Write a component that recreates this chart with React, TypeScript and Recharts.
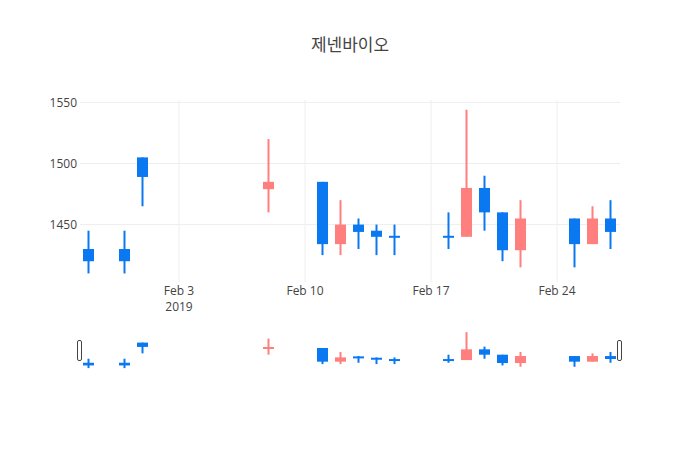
import React from "react";
import { Bar, CartesianGrid, ComposedChart, XAxis, YAxis } from "recharts";

// daily candles, Korean colour convention: red = up, blue = down
const DATES = [
  "2019-01-29", "2019-01-31", "2019-02-01", "2019-02-08", "2019-02-11",
  "2019-02-12", "2019-02-13", "2019-02-14", "2019-02-15", "2019-02-18",
  "2019-02-19", "2019-02-20", "2019-02-21", "2019-02-22", "2019-02-25",
  "2019-02-26", "2019-02-27",
];
const OPEN = [1430, 1430, 1505, 1479, 1485, 1434, 1450, 1445, 1440, 1440, 1440, 1480, 1460, 1429, 1455, 1434, 1455];
const HIGH = [1445, 1445, 1505, 1520, 1485, 1470, 1455, 1450, 1450, 1460, 1544, 1490, 1460, 1470, 1455, 1465, 1470];
const LOW = [1410, 1410, 1465, 1460, 1425, 1425, 1430, 1425, 1425, 1430, 1440, 1445, 1420, 1415, 1415, 1434, 1430];
const CLOSE = [1420, 1420, 1489, 1485, 1434, 1450, 1444, 1440, 1440, 1440, 1480, 1460, 1429, 1455, 1434, 1455, 1444];

const X_TICKS = ["2019-02-03", "2019-02-10", "2019-02-17", "2019-02-24"];
const Y_TICKS = [1450, 1500, 1550];
const Y_DOMAIN = [1403, 1552];

const UP = "#ff7f7f";
const DOWN = "#0a78f0";
const FONT = "'Open Sans', 'Noto Sans CJK KR', sans-serif";
const DAY = 86400000;
const MONTHS = ["Jan", "Feb", "Mar", "Apr", "May", "Jun", "Jul", "Aug", "Sep", "Oct", "Nov", "Dec"];

const toTs = (s: string) => {
  const [y, m, d] = s.split("-").map(Number);
  return Date.UTC(y, m - 1, d);
};

const data = DATES.map((d, i) => ({
  t: toTs(d),
  open: OPEN[i],
  high: HIGH[i],
  low: LOW[i],
  close: CLOSE[i],
  range: [LOW[i], HIGH[i]],
}));

const xTicks = X_TICKS.map(toTs);
const xDomain = [data[0].t - DAY / 2, data[data.length - 1].t + DAY / 2];

function Candle(props: any) {
  const { x, y, width, height, payload } = props;
  if (payload == null || height == null) return null;
  const { open, close, high, low } = payload;
  const k = height / (high - low || 1);
  const up = close > open;
  const color = up ? UP : DOWN;
  const cx = x + width / 2;
  const top = y + (high - Math.max(open, close)) * k;
  const bot = y + (high - Math.min(open, close)) * k;
  const bh = Math.max(bot - top, 2);
  return (
    <g>
      <line x1={cx} x2={cx} y1={y} y2={y + height} stroke={color} strokeWidth={2} />
      <rect x={x} y={bot - top < 2 ? top - 1 : top} width={width} height={bh} fill={color} />
    </g>
  );
}

// plotly-style date tick: year shown under the first label only
function DateTick(props: any) {
  const { x, y, payload, index } = props;
  const d = new Date(payload.value);
  const label = `${MONTHS[d.getUTCMonth()]} ${d.getUTCDate()}`;
  return (
    <g>
      <text x={x} y={y + 13} textAnchor="middle" fill="#444" fontSize={12} fontFamily={FONT}>
        {label}
      </text>
      {index === 0 ? (
        <text x={x} y={y + 29} textAnchor="middle" fill="#444" fontSize={12} fontFamily={FONT}>
          {d.getUTCFullYear()}
        </text>
      ) : null}
    </g>
  );
}

export default function App() {
  return (
    <div style={{ position: "absolute", left: 0, top: 0, width: 700, height: 450, background: "#fff", fontFamily: FONT }}>
      <div
        style={{
          position: "absolute",
          top: 31,
          width: 700,
          textAlign: "center",
          fontSize: 17,
          color: "#444",
        }}
      >
        제넨바이오
      </div>

      <div style={{ position: "absolute", left: 0, top: 0 }}>
        <ComposedChart
          width={700}
          height={320}
          data={data}
          margin={{ top: 100, right: 80, left: 0, bottom: 0 }}
        >
          <CartesianGrid stroke="#eee" strokeWidth={1} horizontalValues={Y_TICKS} verticalValues={xTicks} />
          <XAxis
            dataKey="t"
            type="number"
            scale="linear"
            domain={xDomain}
            ticks={xTicks}
            allowDataOverflow
            axisLine={false}
            tickLine={false}
            tickSize={0}
            tickMargin={0}
            height={38}
            interval={0}
            tick={<DateTick />}
          />
          <YAxis
            type="number"
            domain={Y_DOMAIN}
            ticks={Y_TICKS}
            allowDataOverflow
            axisLine={false}
            tickLine={false}
            tickSize={0}
            tickMargin={3}
            width={80}
            tick={{ fontSize: 12, fill: "#444", fontFamily: FONT }}
          />
          <Bar dataKey="range" barSize={11} shape={<Candle />} isAnimationActive={false} />
        </ComposedChart>
      </div>

      {/* range slider */}
      <div style={{ position: "absolute", left: 0, top: 330 }}>
        <ComposedChart
          width={700}
          height={40}
          data={data}
          margin={{ top: 0, right: 80, left: 80, bottom: 0 }}
        >
          <XAxis dataKey="t" type="number" scale="linear" domain={xDomain} allowDataOverflow hide />
          <YAxis type="number" domain={Y_DOMAIN} allowDataOverflow hide />
          <Bar dataKey="range" barSize={11} shape={<Candle />} isAnimationActive={false} />
        </ComposedChart>
        <div style={{ position: "absolute", left: 77, top: 10, width: 3, height: 19, border: "1px solid #444", borderRadius: 2, background: "#fff" }} />
        <div style={{ position: "absolute", left: 617, top: 10, width: 3, height: 19, border: "1px solid #444", borderRadius: 2, background: "#fff" }} />
      </div>
    </div>
  );
}
